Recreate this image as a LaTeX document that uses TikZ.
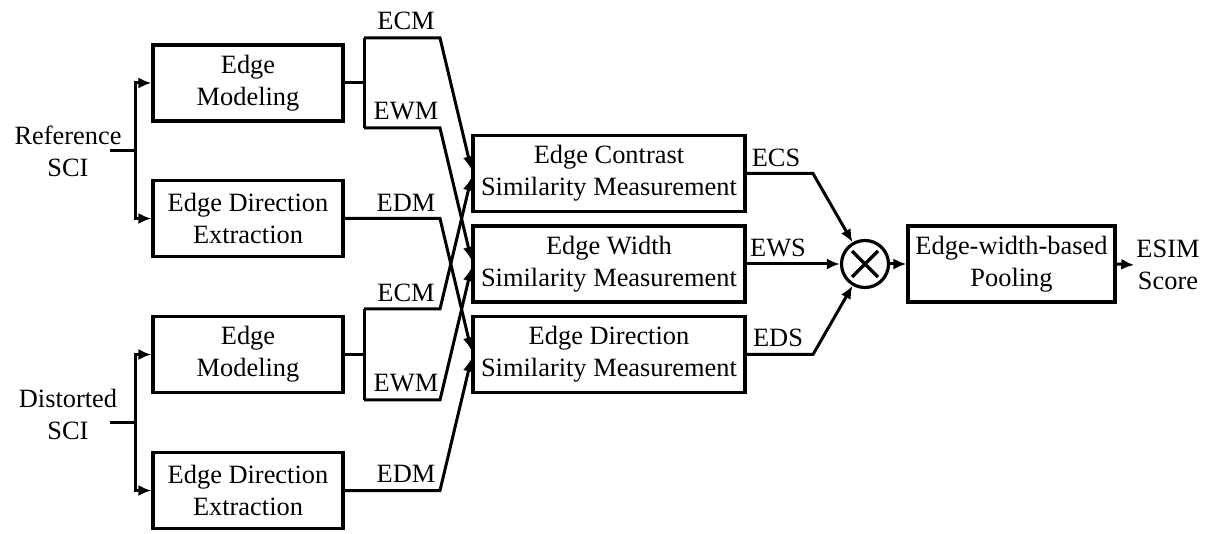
\documentclass[tikz,border=0pt]{standalone}
\usepackage{fontspec}
\setmainfont{Liberation Serif}
\usepackage{tikz}
\usetikzlibrary{arrows.meta}

\tikzset{
  blk/.style={draw, line width=3.2pt, minimum height=76pt, align=center, inner sep=2pt},
  lbl/.style={inner sep=2pt, align=center},
  wire/.style={line width=3pt},
  arr/.style={line width=3pt, -{Latex[length=13pt,width=11pt]}}
}

\begin{document}
\begin{tikzpicture}[x=1pt, y=-1pt, font=\fontsize{26.4}{32}\selectfont]
    \useasboundingbox (0,0) rectangle (1221,534);

    \node(ref)[lbl] at (68,151) {Reference\\SCI};
    \node(dis)[lbl] at (68,414) {Distorted\\SCI};

    \node(em1)[blk, minimum width=190pt] at (248,83) {Edge\\Modeling};
    \node(ede1)[blk, minimum width=190pt] at (248,218.5) {Edge Direction\\Extraction};
    \node(em2)[blk, minimum width=190pt] at (248,354.5) {Edge\\Modeling};
    \node(ede2)[blk, minimum width=190pt] at (248,490.5) {Edge Direction\\Extraction};

    \node(ecsm)[blk, minimum width=272pt] at (609,173.5) {Edge Contrast\\Similarity Measurement};
    \node(ewsm)[blk, minimum width=272pt] at (609,264) {Edge Width\\Similarity Measurement};
    \node(edsm)[blk, minimum width=272pt] at (609,354.5) {Edge Direction\\Similarity Measurement};

    \node(mul)[draw, circle, line width=3.2pt, minimum size=47pt, inner sep=0pt] at (865,264) {};
    \node(pool)[blk, minimum width=207pt] at (1011.5,264) {Edge-width-based\\Pooling};
    \node(esim)[lbl] at (1168,265) {ESIM\\Score};

    \coordinate(refo) at (110,151);
    \coordinate(refj) at (135,151);
    \coordinate(diso) at (110,423);
    \coordinate(disj) at (135,423);

    \coordinate(em1j) at (364,83);
    \coordinate(ecm1a) at (364,38);
    \coordinate(ecm1b) at (440,38);
    \coordinate(ewm1a) at (364,128);
    \coordinate(ewm1b) at (440,128);
    \coordinate(edm1b) at (440,218.5);

    \coordinate(em2j) at (364,354.5);
    \coordinate(ecm2a) at (364,309);
    \coordinate(ecm2b) at (440,309);
    \coordinate(ewm2a) at (364,400);
    \coordinate(ewm2b) at (440,400);
    \coordinate(edm2b) at (440,490.5);

    \coordinate(ecsk) at (813,173.5);
    \coordinate(edsk) at (813,354.5);

    \node(lecm1)[lbl, anchor=base] at (406,30) {ECM};
    \node(lewm1)[lbl, anchor=base] at (406,120) {EWM};
    \node(ledm1)[lbl, anchor=base] at (406,212) {EDM};
    \node(lecm2)[lbl, anchor=base] at (406,302) {ECM};
    \node(lewm2)[lbl, anchor=base] at (406,392) {EWM};
    \node(ledm2)[lbl, anchor=base] at (406,482) {EDM};
    \node(lecs)[lbl, anchor=base] at (776,167) {ECS};
    \node(lews)[lbl, anchor=base] at (778,257) {EWS};
    \node(leds)[lbl, anchor=base] at (778,347) {EDS};

    \draw[wire] (refo) -- (refj);
    \draw[arr] (refj) |- (em1.west);
    \draw[arr] (refj) |- (ede1.west);
    \draw[wire] (diso) -- (disj);
    \draw[arr] (disj) |- (em2.west);
    \draw[arr] (disj) |- (ede2.west);

    \draw[wire] (em1.east) -- (em1j);
    \draw[wire] (ecm1a) -- (ewm1a);
    \draw[arr] (ecm1a) -- (ecm1b) -- ([yshift=4pt]ecsm.west);
    \draw[arr] (ewm1a) -- (ewm1b) -- ([yshift=4pt]ewsm.west);
    \draw[arr] (ede1.east) -- (edm1b) -- ([yshift=4pt]edsm.west);

    \draw[wire] (em2.east) -- (em2j);
    \draw[wire] (ecm2a) -- (ewm2a);
    \draw[arr] (ecm2a) -- (ecm2b) -- ([yshift=-4pt]ecsm.west);
    \draw[arr] (ewm2a) -- (ewm2b) -- ([yshift=-4pt]ewsm.west);
    \draw[arr] (ede2.east) -- (edm2b) -- ([yshift=-4pt]edsm.west);

    \draw[arr] (ecsm.east) -- (ecsk) -- (mul);
    \draw[arr] (ewsm.east) -- (mul);
    \draw[arr] (edsm.east) -- (edsk) -- (mul);
    \draw[line width=3.2pt] ([shift={(-13pt,-13pt)}]mul.center) -- ([shift={(13pt,13pt)}]mul.center);
    \draw[line width=3.2pt] ([shift={(-13pt,13pt)}]mul.center) -- ([shift={(13pt,-13pt)}]mul.center);

    \draw[arr] (mul) -- (pool);
    \draw[arr] (pool.east) -- (esim.west);
\end{tikzpicture}
\end{document}
